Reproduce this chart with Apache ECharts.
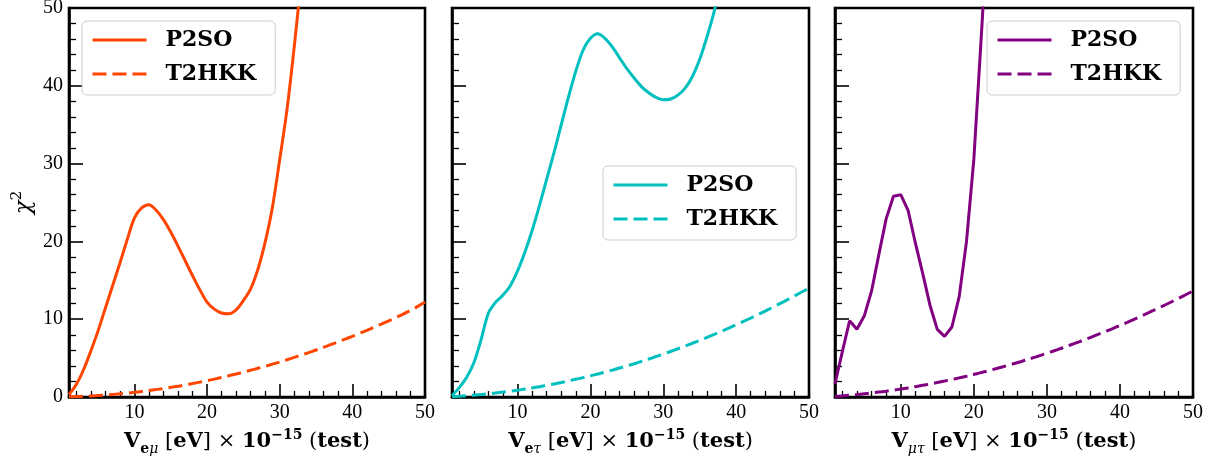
<!DOCTYPE html>
<html>
<head>
<meta charset="utf-8">
<title>chi2 vs V test</title>
<script src="https://cdn.jsdelivr.net/npm/echarts@6.0.0/dist/echarts.min.js"></script>
<style>
  html, body { margin: 0; padding: 0; background: #fff; }
  #chart { width: 1216px; height: 459px; }
</style>
</head>
<body>
<div id="chart"></div>
<script>
'use strict';
/* chi^2 against test value of V, three panels */

// x sampling (eV x 1e-15)
var vTest = [1, 2, 3, 4, 5, 6, 7, 8, 9, 10, 11, 12, 13, 14, 15, 16, 17, 18, 19, 20,
  21, 22, 23, 24, 25, 26, 27, 28, 29, 30, 31, 32, 33, 34, 35, 36, 37, 38, 39, 40,
  41, 42, 43, 44, 45, 46, 47, 48, 49, 50];

var xTicks = [10, 20, 30, 40, 50];
var yTicks = [0, 10, 20, 30, 40, 50];

// V_emu
var p2soEmu = [0.3, 1.6, 3.5, 5.9, 8.5, 11.4, 14.3, 17.2, 20.2, 23.0, 24.3, 24.7, 24.0, 22.8, 21.2,
  19.4, 17.5, 15.6, 13.8, 12.2, 11.3, 10.8, 10.7, 11.2, 12.4, 13.9, 16.4, 19.9, 24.4, 30.5,
  36.9, 45.0, 54.0];
var t2hkkEmu = [0.02, 0.05, 0.09, 0.13, 0.19, 0.25, 0.33, 0.41, 0.50, 0.60, 0.71, 0.83, 0.96, 1.09, 1.24,
  1.39, 1.56, 1.73, 1.91, 2.10, 2.30, 2.51, 2.73, 2.95, 3.19, 3.43, 3.69, 3.95, 4.22, 4.50,
  4.79, 5.09, 5.40, 5.71, 6.04, 6.37, 6.72, 7.07, 7.43, 7.80, 8.18, 8.57, 8.97, 9.37, 9.79,
  10.21, 10.65, 11.15, 11.65, 12.2];

// V_etau
var p2soEtau = [0.2, 1.2, 2.5, 4.4, 7.4, 10.8, 12.2, 13.1, 14.3, 16.2, 18.6, 21.4, 24.6, 28.0, 31.4,
  35.0, 38.6, 41.9, 44.6, 46.1, 46.7, 46.1, 45.0, 43.6, 42.2, 41.0, 39.9, 39.1, 38.5, 38.2,
  38.3, 38.8, 39.7, 41.2, 43.4, 46.3, 49.6, 53.5];
var t2hkkEtau = [0.04, 0.10, 0.16, 0.24, 0.32, 0.41, 0.52, 0.63, 0.75, 0.88, 1.02, 1.17, 1.33, 1.50, 1.68,
  1.87, 2.07, 2.28, 2.49, 2.72, 2.96, 3.20, 3.46, 3.72, 4.00, 4.28, 4.58, 4.88, 5.20, 5.52,
  5.85, 6.20, 6.55, 6.91, 7.28, 7.66, 8.05, 8.45, 8.86, 9.28, 9.71, 10.15, 10.60, 11.05, 11.52,
  12.00, 12.48, 12.98, 13.49, 14.00];

// V_mutau
var p2soMutau = [1.7, 5.8, 9.8, 8.7, 10.4, 13.6, 18.3, 22.9, 25.8, 26.0, 24.0, 19.8, 15.9, 11.8, 8.7,
  7.8, 9.0, 12.9, 20.0, 30.5, 46.0, 62.0];
var t2hkkMutau = [0.06, 0.14, 0.22, 0.31, 0.41, 0.51, 0.63, 0.75, 0.88, 1.02, 1.17, 1.33, 1.50, 1.67, 1.86,
  2.05, 2.25, 2.46, 2.67, 2.90, 3.13, 3.38, 3.63, 3.89, 4.16, 4.43, 4.72, 5.01, 5.31, 5.63,
  5.94, 6.27, 6.61, 6.95, 7.31, 7.67, 8.04, 8.42, 8.80, 9.20, 9.60, 10.02, 10.44, 10.87, 11.31,
  11.75, 12.21, 12.67, 13.14, 13.63];

var serif = 'DejaVu Serif';
var tickFont = 'Liberation Serif';

var panels = [
  { key: 'eμ', left: 69, width: 356, color: '#FF4500', p2so: p2soEmu, t2hkk: t2hkkEmu,
    sub: '{sb|e}{si|μ}', legendPos: { left: 82, top: 21 }, yLabels: true },
  { key: 'eτ', left: 452, width: 357, color: '#00BFBF', p2so: p2soEtau, t2hkk: t2hkkEtau,
    sub: '{sb|e}{si|τ}', legendPos: { left: 603, top: 166 }, yLabels: false },
  { key: 'μτ', left: 835, width: 358, color: '#800080', p2so: p2soMutau, t2hkk: t2hkkMutau,
    sub: '{si|μτ}', legendPos: { left: 987, top: 21 }, yLabels: false }
];

function pairs(ys) {
  return ys.map(function (y, i) { return [vTest[i], y]; });
}

var nameRich = {
  b: { fontFamily: serif, fontWeight: 'bold', fontSize: 21, lineHeight: 28, color: '#000' },
  r: { fontFamily: serif, fontWeight: 'normal', fontSize: 21, lineHeight: 28, color: '#000' },
  sb: { fontFamily: serif, fontWeight: 'bold', fontSize: 14, lineHeight: 14, verticalAlign: 'bottom', color: '#000' },
  si: { fontFamily: serif, fontStyle: 'italic', fontSize: 14, lineHeight: 14, verticalAlign: 'bottom', color: '#000' },
  sp: { fontFamily: serif, fontWeight: 'bold', fontSize: 14, lineHeight: 14, verticalAlign: 'top', color: '#000' }
};

var grids = [], xAxes = [], yAxes = [], legends = [], series = [];

panels.forEach(function (p, i) {
  grids.push({
    left: p.left, width: p.width, top: 8, height: 389,
    show: true, borderColor: '#000', borderWidth: 2.6,
    containLabel: false, outerBoundsMode: 'none'
  });

  xAxes.push({
    gridIndex: i, type: 'value', min: vTest[0], max: xTicks[xTicks.length - 1], splitNumber: 5,
    axisLine: { show: true, onZero: false, lineStyle: { color: '#000', width: 2.6 } },
    axisTick: { show: true, inside: true, length: 13, lineStyle: { color: '#000', width: 1.6 } },
    minorTick: { show: true, splitNumber: 5, length: 6, lineStyle: { color: '#000', width: 1.3 } },
    splitLine: { show: false },
    axisLabel: { showMinLabel: false, color: '#000', fontFamily: tickFont, fontSize: 20, margin: 6 },
    name: '{b|V}' + p.sub + '{r| [}{b|eV}{r|] × }{b|10}{sp|−15}{r| (}{b|test}{r|)}',
    nameLocation: 'middle', nameGap: 31,
    nameTextStyle: { fontFamily: serif, fontSize: 21, color: '#000', rich: nameRich }
  });

  yAxes.push({
    gridIndex: i, type: 'value', min: yTicks[0], max: yTicks[yTicks.length - 1], interval: 10,
    axisLine: { show: true, onZero: false, lineStyle: { color: '#000', width: 2.6 } },
    axisTick: { show: true, inside: true, length: 14, lineStyle: { color: '#000', width: 1.6 } },
    minorTick: { show: true, splitNumber: 5, length: 7, lineStyle: { color: '#000', width: 1.3 } },
    splitLine: { show: false },
    axisLabel: { show: p.yLabels, color: '#000', fontFamily: tickFont, fontSize: 20, margin: 6 },
    name: p.yLabels ? '{c|χ}{sp|2}' : '',
    nameLocation: 'middle', nameGap: 31, nameRotate: 90,
    nameTextStyle: {
      color: '#000',
      rich: {
        c: { fontFamily: serif, fontStyle: 'italic', fontSize: 23, lineHeight: 28, color: '#000' },
        sp: { fontFamily: serif, fontSize: 15, lineHeight: 15, verticalAlign: 'top', color: '#000' }
      }
    }
  });

  legends.push({
    left: p.legendPos.left, top: p.legendPos.top, orient: 'vertical',
    data: ['P2SO ' + p.key, 'T2HKK ' + p.key],
    formatter: function (name) { return name.split(' ')[0]; },
    itemWidth: 54, itemHeight: 14, itemGap: 12,
    padding: [8, 19, 10, 9],
    backgroundColor: 'rgba(255,255,255,0.8)',
    borderColor: '#cccccc', borderWidth: 1, borderRadius: 5,
    selectedMode: false,
    itemStyle: { opacity: 0 },
    lineStyle: { width: 3 },
    textStyle: { fontFamily: serif, fontWeight: 'bold', fontSize: 22, color: '#000', padding: [0, 0, 0, 14] }
  });

  series.push({
    type: 'line', name: 'P2SO ' + p.key, xAxisIndex: i, yAxisIndex: i,
    data: pairs(p.p2so), symbol: 'none', smooth: i < 2 ? 0.3 : false, clip: true,
    lineStyle: { color: p.color, width: 3 }, itemStyle: { color: p.color }
  });
  series.push({
    type: 'line', name: 'T2HKK ' + p.key, xAxisIndex: i, yAxisIndex: i,
    data: pairs(p.t2hkk), symbol: 'none', smooth: true, clip: true,
    lineStyle: { color: p.color, width: 3, type: [14, 6] }, itemStyle: { color: p.color }
  });
});

var chart = echarts.init(document.getElementById('chart'));
chart.setOption({
  backgroundColor: '#fff',
  animation: false,
  grid: grids,
  xAxis: xAxes,
  yAxis: yAxes,
  legend: legends,
  series: series
});
</script>
</body>
</html>
